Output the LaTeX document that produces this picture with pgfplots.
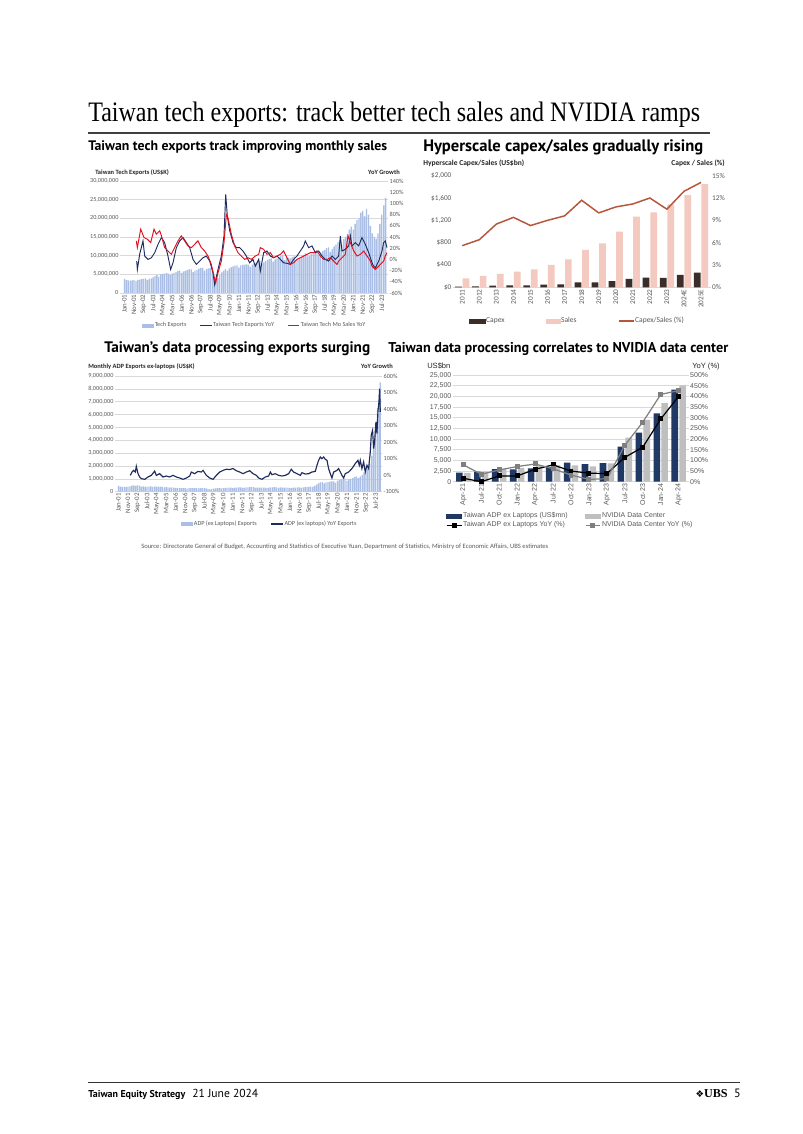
\documentclass[border=0pt]{standalone}
\usepackage{fontspec}
\usepackage{graphicx}
\usepackage{pgfplots}
\pgfplotsset{compat=1.18}
\setmainfont{Carlito}
\newfontfamily\titlef{Liberation Serif}
\newfontfamily\subf{PT Sans}
\newfontfamily\arialf{Liberation Sans}
\newfontfamily\symf{DejaVu Sans}
\definecolor{barblue}{HTML}{ABBFE6}
\definecolor{navy}{HTML}{1F2D5E}
\definecolor{tred}{HTML}{E0101E}
\definecolor{capex}{HTML}{3B2E2A}
\definecolor{sales}{HTML}{F4C9C0}
\definecolor{rust}{HTML}{B5563D}
\definecolor{nvnavy}{HTML}{1F3864}
\definecolor{nvgray}{HTML}{BFBFBF}
\definecolor{nvline}{HTML}{7F7F7F}
\definecolor{txt}{HTML}{595959}
\definecolor{dtxt}{HTML}{262626}
\definecolor{gridc}{HTML}{D9D9D9}
\newcommand{\tk}{\fontsize{4.6}{5}\selectfont}
\newcommand{\tkx}{\fontsize{5.1}{5.5}\selectfont}
\newcommand{\tkb}{\fontsize{5.4}{6}\selectfont}
\newcommand{\tkc}{\arialf\fontsize{5.2}{5.6}\selectfont}
\pgfplotsset{
  base/.style={scale only axis, anchor=south west, major tick length=0pt, scaled ticks=false,
     tick label style={text=txt}, legend cell align=left},
  leftax/.style={base, axis x line*=bottom, axis y line*=left, axis line style={draw=none},
     yticklabel style={anchor=east, inner sep=1pt},
     xticklabel style={rotate=90, anchor=east, inner sep=1pt}},
  rightax/.style={base, axis x line=none, axis y line*=right, axis line style={draw=none},
     yticklabel style={anchor=west, inner sep=1pt}},
}
\begin{document}
\begin{tikzpicture}
\begin{scope}[x=0.741895pt, y=-0.741895pt]
\path[use as bounding box, fill=white] (0,0) rectangle (802,1134);
\node[anchor=base west, inner sep=0] at (88,121) {\resizebox{454pt}{14.5pt}{\titlef Taiwan tech exports: track better tech sales and NVIDIA ramps}};
\draw[line width=0.9pt, black!75] (88,133) -- (710,133);
\node[anchor=base west, inner sep=0] at (88,150) {\resizebox{221.8pt}{!}{\subf\bfseries Taiwan tech exports track improving monthly sales}};
\node[anchor=base west, inner sep=0] at (423,151) {\resizebox{207.7pt}{!}{\subf\bfseries Hyperscale capex/sales gradually rising}};
\node[anchor=base west, inner sep=0] at (104,352) {\resizebox{197.3pt}{!}{\subf\bfseries Taiwan’s data processing exports surging}};
\node[anchor=base west, inner sep=0] at (388,352) {\resizebox{252.2pt}{!}{\subf\bfseries Taiwan data processing correlates to NVIDIA data center}};
\node[anchor=base west, inner sep=0, text=dtxt] at (95,174.5) {\fontsize{4.8}{5}\selectfont\bfseries Taiwan Tech Exports (US\$K)};
\node[anchor=base east, inner sep=0, text=dtxt] at (400,174.5) {\fontsize{4.8}{5}\selectfont\bfseries YoY Growth};
\node[anchor=base west, inner sep=0, text=dtxt] at (423,165.5) {\fontsize{5.6}{6}\selectfont\bfseries Hyperscale Capex/Sales (US\$bn)};
\node[anchor=base east, inner sep=0, text=dtxt] at (725,165.5) {\fontsize{5.6}{6}\selectfont\bfseries Capex / Sales (\%)};
\node[anchor=base west, inner sep=0, text=dtxt] at (88,368.5) {\fontsize{4.8}{5}\selectfont\bfseries Monthly ADP Exports ex-laptops (US\$K)};
\node[anchor=base east, inner sep=0, text=dtxt] at (393,368.5) {\fontsize{4.8}{5}\selectfont\bfseries YoY Growth};
\node[anchor=base west, inner sep=0, text=dtxt] at (427,368.5) {\arialf\fontsize{5.6}{6}\selectfont US\$bn};
\node[anchor=base east, inner sep=0, text=dtxt] at (720,368.5) {\arialf\fontsize{5.6}{6}\selectfont YoY (\%)};
\node[anchor=base west, inner sep=0, text=txt] at (141,548) {\resizebox{302pt}{!}{\fontsize{4.5}{5}\selectfont Source: Directorate General of Budget, Accounting and Statistics of Executive Yuan, Department of Statistics, Ministry of Economic Affairs, UBS estimates}};
\draw[line width=0.6pt, black!80] (88,1082) -- (740,1082);
\node[anchor=base west, inner sep=0] at (88,1097) {\resizebox{72pt}{!}{\subf\bfseries Taiwan Equity Strategy}};
\node[anchor=base west, inner sep=0] at (192,1097) {\resizebox{49pt}{!}{\subf 21 June 2024}};
\node[anchor=base east, inner sep=0] at (728,1097) {{\symf\fontsize{7}{8}\selectfont ❖}{\titlef\bfseries\fontsize{9}{10}\selectfont UBS}};
\node[anchor=base east, inner sep=0] at (741,1097) {\subf\fontsize{9}{10}\selectfont 5};
\end{scope}

% ---------------- Chart 1 ----------------
\begin{axis}[leftax, at={(89.03pt,-217.37pt)}, width=198.83pt, height=83.09pt,
 xmin=-4.72, xmax=276.5, ymin=0, ymax=30,
 ytick={0,5,10,15,20,25,30}, yticklabels={0,{5,000,000},{10,000,000},{15,000,000},{20,000,000},{25,000,000},{30,000,000}},
 xtick={0,10,...,270}, xticklabels={Jan-01,Nov-01,Sep-02,Jul-03,May-04,Mar-05,Jan-06,Nov-06,Sep-07,Jul-08,May-09,Mar-10,Jan-11,Nov-11,Sep-12,Jul-13,May-14,Mar-15,Jan-16,Nov-16,Sep-17,Jul-18,May-19,Mar-20,Jan-21,Nov-21,Sep-22,Jul-23},
 ymajorgrids, grid style={gridc, line width=0.4pt}, yticklabel style={font=\tk}, xticklabel style={font=\tkx}]
\addplot[ybar, bar width=1pt, fill=barblue, draw=none] coordinates {
(0,3.8)(2,3.5)(4,3.4)(6,3.3)(8,3.4)(10,3.5)
(12,3.2)(14,3.5)(16,3.6)(18,3.7)(20,3.8)(22,3.9)
(24,3.5)(26,3.8)(28,3.9)(30,4.2)(32,4.5)(34,4.8)
(36,4.4)(38,5.0)(40,5.1)(42,5.2)(44,5.3)(46,5.2)
(48,4.8)(50,5.2)(52,5.4)(54,5.6)(56,5.9)(58,6.0)
(60,5.4)(62,5.8)(64,6.0)(66,6.1)(68,6.4)(70,6.3)
(72,5.6)(74,6.0)(76,6.2)(78,6.5)(80,6.7)(82,6.7)
(84,6.0)(86,6.4)(88,6.6)(90,6.7)(92,6.2)(94,4.2)
(96,3.0)(98,4.0)(100,4.8)(102,5.5)(104,6.0)(106,6.4)
(108,6.0)(110,6.6)(112,6.9)(114,7.1)(116,7.3)(118,7.4)
(120,6.8)(122,7.4)(124,7.5)(126,7.6)(128,7.7)(130,7.6)
(132,7.0)(134,7.6)(136,7.9)(138,8.1)(140,8.5)(142,8.6)
(144,7.8)(146,8.2)(148,8.6)(150,8.8)(152,9.1)(154,9.3)
(156,8.4)(158,9.0)(160,9.3)(162,9.6)(164,10.0)(166,10.1)
(168,8.8)(170,9.4)(172,9.5)(174,9.3)(176,9.6)(178,9.8)
(180,8.4)(182,8.9)(184,9.3)(186,9.6)(188,10.2)(190,10.6)
(192,9.8)(194,10.0)(196,10.4)(198,10.6)(200,11.2)(202,11.4)
(204,10.2)(206,10.9)(208,11.2)(210,11.5)(212,12.0)(214,12.2)
(216,11.0)(218,11.8)(220,12.5)(222,13.0)(224,13.6)(226,14.0)
(228,13.0)(230,14.5)(232,15.0)(234,15.8)(236,17.0)(238,17.8)
(240,17.0)(242,18.5)(244,19.5)(246,20.0)(248,21.5)(250,22.0)
(252,20.5)(254,22.5)(256,21.0)(258,18.0)(260,16.0)(262,15.0)
(264,14.5)(266,16.0)(268,18.5)(270,21.0)(272,23.5)(274,25.5)};
\end{axis}
\begin{axis}[rightax, at={(89.03pt,-217.37pt)}, width=198.83pt, height=83.09pt,
 xmin=-4.72, xmax=276.5, ymin=-60, ymax=140,
 ytick={-60,-40,...,140}, yticklabels={-60\%,-40\%,-20\%,0\%,20\%,40\%,60\%,80\%,100\%,120\%,140\%},
 tick label style={font=\tk},
 legend style={at={(0.5,-0.292)}, anchor=center, draw=none, fill=none, font=\tk, text=txt, legend columns=3, /tikz/every even column/.append style={column sep=9pt}, nodes={inner sep=0.7pt}},
 legend image code/.code={\draw[#1] (0pt,0pt) -- (8.7pt,0pt);}]
\addlegendimage{legend image code/.code={\fill[barblue] (0pt,-1.3pt) rectangle (8.7pt,1.3pt);}}
\addlegendentry{Tech Exports}
\addplot[navy, line width=0.7pt, mark=none] coordinates {
(12.8,-3)(13.5,-18)(16,10)(19.4,33)(21.2,6)(24.7,0)(28.2,3)(31.7,12)(35.2,27)(38.7,39)(42.1,30)(45.6,6)(48.4,-18)(50.9,-6)(54.4,21)(57.9,33)(61.4,39)(64.9,30)(68.4,21)(71.9,0)(75.4,-9)(78.9,-3)(82.4,3)(85.9,6)(89.4,-3)(92.9,-24)(94.6,-45)(98.1,-18)(101.6,6)(104.4,42)(106.2,116)(107.9,77)(110.4,51)(113.9,30)(117.3,21)(120.8,21)(124.3,15)(127.8,6)(131.3,-6)(134.8,0)(137.3,-12)(140.8,0)(142.5,-21)(146.0,12)(149.5,15)(153.0,6)(156.5,3)(160.0,6)(163.5,0)(167.0,-6)(170.5,-7)(174.0,-9)(177.5,0)(181.0,6)(184.5,15)(188.0,24)(189.7,33)(193.2,21)(196.7,24)(200.3,12)(203.7,15)(207.2,6)(210.7,0)(214.2,-3)(217.7,6)(221.2,0)(224.7,6)(226.5,42)(228.2,15)(231.7,18)(235.2,24)(237.0,42)(238.7,24)(242.2,30)(245.7,24)(249.2,39)(252.7,27)(256.2,12)(259.7,-6)(261.4,-12)(263.2,-15)(266.7,-3)(270.2,15)(271.9,30)(273.6,33)(275.4,21)};
\addlegendentry{Taiwan Tech Exports YoY}
\addplot[tred, line width=0.7pt, mark=none] coordinates {
(12.4,33)(13.5,21)(17.0,54)(20.5,39)(24.0,36)(27.5,30)(31.0,54)(33.4,45)(36.9,51)(38.6,43)(42.1,21)(45.6,15)(49.1,9)(52.6,21)(56.1,33)(59.6,42)(63.1,33)(66.6,24)(70.1,21)(73.6,27)(77.1,33)(80.6,21)(84.1,15)(87.6,6)(91.1,-9)(93.9,-30)(95.7,-42)(98.1,-24)(101.6,-3)(104.4,30)(106.9,80)(108.6,74)(112.1,45)(115.6,24)(119.1,12)(122.6,6)(126.1,0)(129.6,3)(133.1,0)(137.3,6)(140.8,9)(142.5,21)(146.0,18)(149.5,9)(153.0,12)(156.5,3)(160.0,6)(163.5,9)(167.0,15)(170.5,3)(174.0,-9)(177.5,-6)(181.0,0)(184.5,3)(188.0,6)(191.5,9)(195.0,12)(198.5,12)(202.0,15)(205.5,6)(209.0,0)(212.5,0)(216.0,3)(219.5,-3)(223.0,-9)(224.7,-3)(228.2,3)(231.7,9)(234.5,42)(237.0,30)(240.5,15)(244.0,6)(247.5,9)(251.0,15)(254.5,6)(258.0,-3)(259.7,-12)(263.2,-18)(265.0,-15)(268.5,-9)(272.0,-3)(273.6,6)(275.4,12)};
\addlegendentry{Taiwan Tech Mo Sales YoY}
\end{axis}

% ---------------- Chart 2 ----------------
\begin{axis}[base, at={(336.08pt,-213.15pt)}, width=191.04pt, height=82.80pt,
 axis x line*=bottom, axis y line*=left, y axis line style={draw=none}, x axis line style={draw=gridc, line width=0.5pt},
 yticklabel style={anchor=east, inner sep=1pt}, xticklabel style={rotate=90, anchor=east, inner sep=1.5pt},
 xmin=-0.545, xmax=14.557, ymin=0, ymax=2000,
 ytick={0,400,...,2000}, yticklabels={\$0,\$400,\$800,{\$1,200},{\$1,600},{\$2,000}},
 xtick={0,...,14}, xticklabels={2011,2012,2013,2014,2015,2016,2017,2018,2019,2020,2021,2022,2023,2024E,2025E},
 tick label style={font=\tkb}]
\addplot[ybar, bar width=5pt, bar shift=-2.8pt, fill=capex, draw=none] coordinates {
(0,12)(1,18)(2,30)(3,36)(4,36)(5,48)(6,54)(7,90)(8,90)(9,113)(10,149)(11,173)(12,167)(13,221)(14,263)};
\addplot[ybar, bar width=5pt, bar shift=2.8pt, fill=sales, draw=none] coordinates {
(0,161)(1,203)(2,239)(3,281)(4,322)(5,400)(6,501)(7,669)(8,788)(9,997)(10,1266)(11,1343)(12,1487)(13,1654)(14,1851)};
\end{axis}
\begin{axis}[rightax, at={(336.08pt,-213.15pt)}, width=191.04pt, height=82.80pt,
 xmin=-0.545, xmax=14.557, ymin=0, ymax=15,
 ytick={0,3,...,15}, yticklabels={0\%,3\%,6\%,9\%,12\%,15\%}, tick label style={font=\tkb},
 legend style={at={(0.4816,-0.302)}, anchor=center, draw=none, fill=none, font=\fontsize{5.6}{6}\selectfont, text=txt, legend columns=3, /tikz/every even column/.append style={column sep=30pt}, nodes={inner sep=0.7pt}},
 legend image code/.code={\draw[#1] (0pt,0pt) -- (11pt,0pt);}]
\addlegendimage{legend image code/.code={\fill[capex] (0pt,-1.6pt) rectangle (11.5pt,1.6pt);}}
\addlegendentry{Capex}
\addlegendimage{legend image code/.code={\fill[sales] (0pt,-1.6pt) rectangle (10pt,1.6pt);}}
\addlegendentry{Sales}
\addplot[rust, line width=1.1pt, mark=none] coordinates {
(0,5.6)(1,6.4)(2,8.5)(3,9.4)(4,8.3)(5,9.0)(6,9.6)(7,11.7)(8,10.0)(9,10.8)(10,11.2)(11,12.0)(12,10.5)(13,12.9)(14,14.1)};
\addlegendentry{Capex/Sales (\%)}
\end{axis}

% ---------------- Chart 3 ----------------
\begin{axis}[leftax, at={(85.32pt,-364.79pt)}, width=198.09pt, height=85.84pt,
 xmin=-3.68, xmax=276.8, ymin=0, ymax=9,
 ytick={0,1,...,9}, yticklabels={0,{1,000,000},{2,000,000},{3,000,000},{4,000,000},{5,000,000},{6,000,000},{7,000,000},{8,000,000},{9,000,000}},
 xtick={0,10,...,270}, xticklabels={Jan-01,Nov-01,Sep-02,Jul-03,May-04,Mar-05,Jan-06,Nov-06,Sep-07,Jul-08,May-09,Mar-10,Jan-11,Nov-11,Sep-12,Jul-13,May-14,Mar-15,Jan-16,Nov-16,Sep-17,Jul-18,May-19,Mar-20,Jan-21,Nov-21,Sep-22,Jul-23},
 ymajorgrids, grid style={gridc, line width=0.4pt}, yticklabel style={font=\tk}, xticklabel style={font=\tkx}]
\addplot[ybar, bar width=1pt, fill=barblue, draw=none] coordinates {
(0,0.45)(2,0.40)(4,0.38)(6,0.35)(8,0.37)(10,0.40)
(12,0.42)(14,0.48)(16,0.50)(18,0.45)(20,0.50)(22,0.48)
(24,0.40)(26,0.42)(28,0.40)(30,0.38)(32,0.40)(34,0.42)
(36,0.38)(38,0.42)(40,0.40)(42,0.38)(44,0.40)(46,0.38)
(48,0.33)(50,0.35)(52,0.33)(54,0.32)(56,0.33)(58,0.32)
(60,0.28)(62,0.30)(64,0.28)(66,0.27)(68,0.28)(70,0.27)
(72,0.24)(74,0.27)(76,0.28)(78,0.27)(80,0.28)(82,0.28)
(84,0.25)(86,0.28)(88,0.28)(90,0.27)(92,0.25)(94,0.22)
(96,0.18)(98,0.22)(100,0.24)(102,0.25)(104,0.27)(106,0.27)
(108,0.25)(110,0.28)(112,0.30)(114,0.30)(116,0.31)(118,0.31)
(120,0.28)(122,0.32)(124,0.32)(126,0.33)(128,0.33)(130,0.32)
(132,0.30)(134,0.33)(136,0.34)(138,0.35)(140,0.35)(142,0.35)
(144,0.30)(146,0.32)(148,0.32)(150,0.31)(152,0.32)(154,0.31)
(156,0.28)(158,0.32)(160,0.33)(162,0.34)(164,0.35)(166,0.34)
(168,0.30)(170,0.33)(172,0.32)(174,0.31)(176,0.32)(178,0.31)
(180,0.27)(182,0.30)(184,0.31)(186,0.32)(188,0.34)(190,0.34)
(192,0.30)(194,0.33)(196,0.35)(198,0.36)(200,0.38)(202,0.40)
(204,0.38)(206,0.45)(208,0.55)(210,0.65)(212,0.72)(214,0.75)
(216,0.65)(218,0.72)(220,0.75)(222,0.78)(224,0.80)(226,0.80)
(228,0.70)(230,0.85)(232,0.90)(234,0.95)(236,1.00)(238,1.02)
(240,0.85)(242,0.95)(244,1.00)(246,1.05)(248,1.15)(250,1.20)
(252,1.05)(254,1.20)(256,1.30)(258,1.50)(260,1.70)(262,1.80)
(264,2.20)(266,2.80)(268,4.00)(270,4.80)(272,6.50)(274,7.50)(275,8.50)};
\end{axis}
\begin{axis}[rightax, at={(85.32pt,-364.79pt)}, width=198.09pt, height=85.84pt,
 xmin=-3.68, xmax=276.8, ymin=-100, ymax=600,
 ytick={-100,0,...,600}, yticklabels={-100\%,0\%,100\%,200\%,300\%,400\%,500\%,600\%},
 tick label style={font=\tk},
 legend style={at={(0.577,-0.279)}, anchor=center, draw=none, fill=none, font=\tk, text=txt, legend columns=2, /tikz/every even column/.append style={column sep=9.6pt}, nodes={inner sep=0.7pt}},
 legend image code/.code={\draw[#1] (0pt,0pt) -- (8.7pt,0pt);}]
\addlegendimage{legend image code/.code={\fill[barblue] (0pt,-1.3pt) rectangle (8.7pt,1.3pt);}}
\addlegendentry{ADP (ex Laptops) Exports}
\addplot[navy, line width=0.85pt, mark=none] coordinates {
(12.4,-1)(14.2,19)(15.9,29)(17.7,19)(18.7,54)(20.5,9)(22.2,-11)(24.0,-21)(27.5,-25)(31.0,-11)(34.5,-1)(38.0,25)(39.7,-1)(43.2,9)(46.7,-11)(50.2,-5)(53.7,-11)(57.3,-1)(60.7,-11)(64.3,-17)(67.8,-25)(71.3,-17)(74.8,-5)(76.5,19)(80.0,9)(83.5,23)(87.0,19)(88.8,29)(92.3,-1)(95.8,-17)(99.3,-25)(102.8,-1)(106.3,19)(109.8,29)(113.3,36)(116.8,34)(120.3,40)(123.8,27)(127.3,19)(130.8,9)(134.3,19)(137.8,27)(141.3,9)(144.8,-1)(147.2,-17)(150.7,-25)(154.2,-11)(157.7,-5)(159.5,19)(161.2,3)(164.7,9)(168.2,-1)(171.7,-5)(175.2,-1)(178.7,9)(181.5,36)(183.9,19)(187.5,9)(191.0,-1)(192.7,15)(196.2,7)(199.7,9)(203.2,19)(206.7,23)(208.5,60)(210.2,90)(212.0,110)(213.7,100)(215.5,110)(217.2,96)(219.0,90)(220.7,40)(222.5,9)(224.2,-17)(226.0,19)(229.5,29)(231.2,40)(233.0,19)(234.7,-1)(236.5,-17)(238.2,9)(241.7,19)(245.2,40)(248.7,70)(251.5,90)(252.9,60)(254.0,90)(255.7,40)(257.5,80)(259.2,19)(261.0,60)(262.7,40)(264.5,141)(265.5,242)(266.9,272)(268.0,161)(269.0,201)(270.4,322)(271.5,252)(272.5,383)(273.6,444)(274.3,524)(275.0,383)};
\addlegendentry{ADP (ex laptops) YoY Exports}
\end{axis}

% ---------------- Chart 4 ----------------
\begin{axis}[base, at={(336.08pt,-357.37pt)}, width=174.79pt, height=79.16pt,
 axis x line*=bottom, axis y line*=left, y axis line style={draw=none}, x axis line style={draw=gridc, line width=0.5pt},
 yticklabel style={anchor=east, inner sep=1pt}, xticklabel style={rotate=90, anchor=east, inner sep=1.5pt},
 xmin=-0.574, xmax=12.552, ymin=0, ymax=25000,
 ytick={0,2500,...,25000}, yticklabels={0,{2,500},{5,000},{7,500},{10,000},{12,500},{15,000},{17,500},{20,000},{22,500},{25,000}},
 xtick={0,...,12}, xticklabels={Apr-21,Jul-21,Oct-21,Jan-22,Apr-22,Jul-22,Oct-22,Jan-23,Apr-23,Jul-23,Oct-23,Jan-24,Apr-24},
 ymajorgrids, grid style={gridc, line width=0.4pt}, tick label style={font=\tkc}]
\addplot[ybar, bar width=4.9pt, bar shift=-2.9pt, fill=nvnavy, draw=none] coordinates {
(0,2100)(1,2340)(2,2970)(3,2890)(4,3120)(5,3500)(6,4450)(7,4140)(8,4370)(9,8200)(10,11480)(11,16010)(12,21560)};
\addplot[ybar, bar width=4.9pt, bar shift=2.9pt, fill=nvgray, draw=none] coordinates {
(0,2050)(1,2370)(2,2940)(3,3260)(4,3750)(5,3810)(6,3830)(7,3620)(8,4280)(9,10320)(10,14510)(11,18400)(12,22560)};
\end{axis}
\begin{axis}[rightax, at={(336.08pt,-357.37pt)}, width=174.79pt, height=79.16pt,
 xmin=-0.574, xmax=12.552, ymin=0, ymax=500, clip=false,
 ytick={0,50,...,500}, yticklabels={0\%,50\%,100\%,150\%,200\%,250\%,300\%,350\%,400\%,450\%,500\%},
 tick label style={font=\tkc},
 legend style={at={(0.496,-0.3655)}, anchor=center, draw=none, fill=none, font=\tkc, text=txt, legend columns=2, /tikz/every even column/.append style={column sep=12pt}, nodes={inner sep=0.8pt}},
 legend image code/.code={\draw[mark repeat=2, mark phase=2, #1] plot coordinates {(0pt,0pt) (5.5pt,0pt) (11pt,0pt)};}]
\addlegendimage{legend image code/.code={\fill[nvnavy] (0pt,-1.6pt) rectangle (11pt,1.6pt);}}
\addlegendentry{Taiwan ADP ex Laptops (US\$mn)}
\addlegendimage{legend image code/.code={\fill[nvgray] (0pt,-1.6pt) rectangle (11pt,1.6pt);}}
\addlegendentry{NVIDIA Data Center}
\addplot[black, line width=0.9pt, mark=square*, mark size=1.4pt] coordinates {
(0,16)(1,0)(2,27)(3,27)(4,58)(5,79)(6,50)(7,40)(8,38)(9,114)(10,162)(11,294)(12,400)};
\addlegendentry{Taiwan ADP ex Laptops YoY (\%)}
\addplot[nvline, line width=0.9pt, mark=square*, mark size=1.4pt, mark options={fill=nvline}] coordinates {
(0,79)(1,35)(2,55)(3,71)(4,83)(5,61)(6,31)(7,11)(8,14)(9,171)(10,279)(11,409)(12,427)};
\addlegendentry{NVIDIA Data Center YoY (\%)}
\end{axis}
\end{tikzpicture}
\end{document}
